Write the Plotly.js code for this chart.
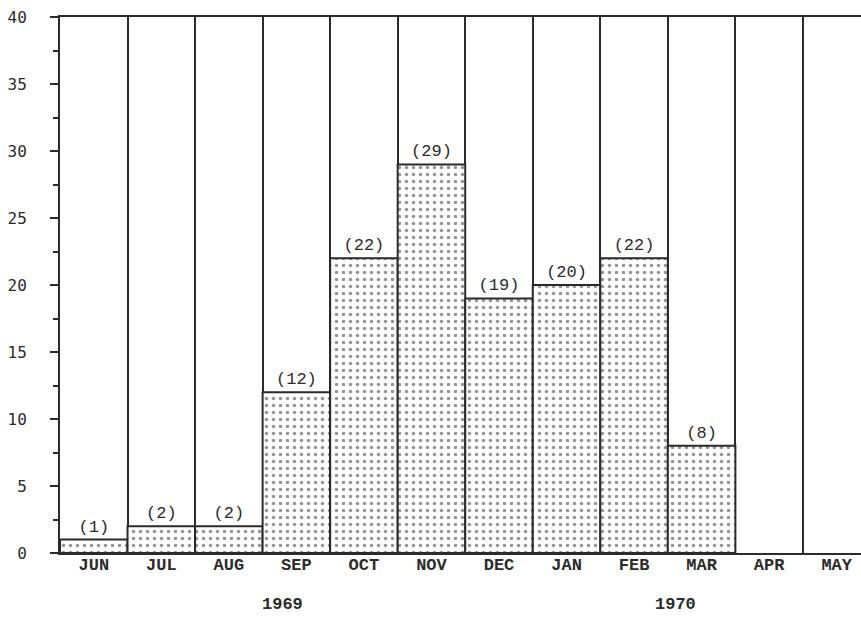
<!DOCTYPE html>
<html>
<head>
<meta charset="utf-8">
<script src="https://cdn.plot.ly/plotly-3.0.1.min.js"></script>
<style>
  html, body { margin: 0; padding: 0; background: #fff; overflow: hidden; }
  #chart { width: 861px; height: 618px; }
</style>
</head>
<body>
<div id="chart"></div>
<script>
// Monthly counts, June 1969 – May 1970
const months = ['JUN', 'JUL', 'AUG', 'SEP', 'OCT', 'NOV', 'DEC', 'JAN', 'FEB', 'MAR', 'APR', 'MAY'];
const counts = [1, 2, 2, 12, 22, 29, 19, 20, 22, 8, null, null];
const yearLabels = ['1969', '1970'];

const ink = '#2b2b2b';
const mono = '"Liberation Mono", "DejaVu Sans Mono", monospace';

const stippled = {
  type: 'bar',
  x: months,
  y: counts,
  width: 1,
  marker: {
    color: '#ffffff',
    line: { color: ink, width: 2 },
    pattern: { shape: '.', fgcolor: ink, bgcolor: '#ffffff', size: 7, solidity: 0.2, fillmode: 'overlay' }
  },
  text: counts.map(v => v == null ? '' : '(' + v + ')'),
  textposition: 'outside',
  textfont: { family: mono, size: 17, color: ink },
  cliponaxis: false,
  hoverinfo: 'skip'
};

const layout = {
  width: 861,
  height: 618,
  margin: { l: 60, r: 0, t: 17, b: 65 },
  paper_bgcolor: '#ffffff',
  plot_bgcolor: '#ffffff',
  showlegend: false,
  bargap: 0,
  xaxis: {
    type: 'category',
    range: [-0.5, 11.36],
    tickson: 'boundaries',
    showgrid: true,
    gridcolor: ink,
    gridwidth: 2,
    ticks: '',
    showline: true,
    linecolor: ink,
    linewidth: 2,
    mirror: true,
    zeroline: false,
    ticklabelstandoff: -5,
    tickfont: { family: mono, size: 17, color: ink, weight: 'bold' }
  },
  yaxis: {
    range: [0, 40],
    dtick: 5,
    tick0: 0,
    ticks: 'outside',
    ticklen: 8,
    tickwidth: 2,
    tickcolor: ink,
    minor: { dtick: 2.5, ticks: 'outside', ticklen: 5, tickwidth: 2, tickcolor: ink },
    showgrid: false,
    zeroline: false,
    showline: true,
    linecolor: ink,
    linewidth: 2,
    ticklabelstandoff: 20,
    tickfont: { family: '"DejaVu Sans Mono", monospace', size: 16, color: ink }
  },
  annotations: [
    { text: yearLabels[0], xref: 'paper', yref: 'paper', x: 0.278, y: -0.097,
      xanchor: 'center', yanchor: 'middle', showarrow: false,
      font: { family: mono, size: 17, color: ink, weight: 'bold' } },
    { text: yearLabels[1], xref: 'paper', yref: 'paper', x: 0.769, y: -0.097,
      xanchor: 'center', yanchor: 'middle', showarrow: false,
      font: { family: mono, size: 17, color: ink, weight: 'bold' } }
  ]
};

Plotly.newPlot('chart', [stippled], layout, { displayModeBar: false, staticPlot: true });
</script>
</body>
</html>
